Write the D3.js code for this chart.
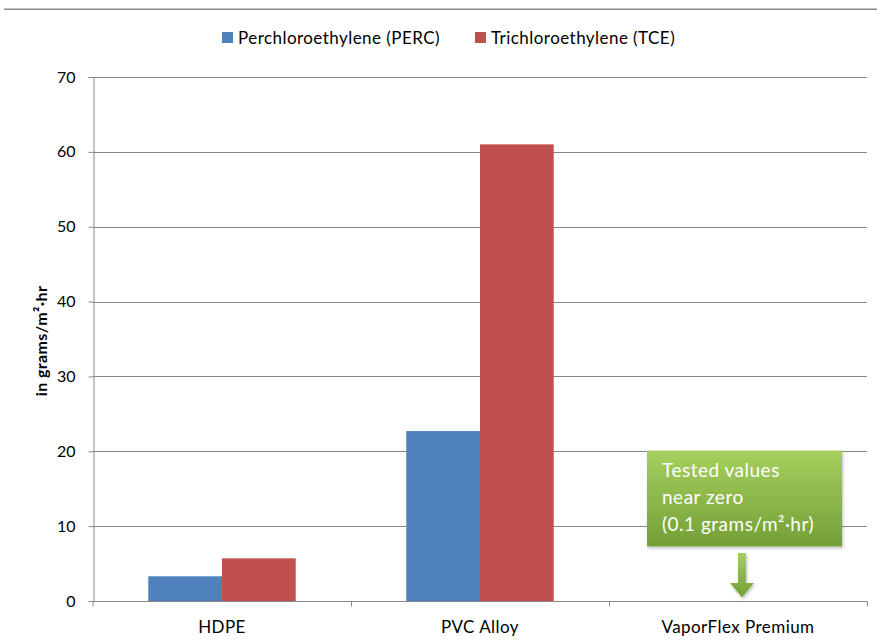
<!DOCTYPE html>
<html>
<head>
<meta charset="utf-8">
<script src="https://cdn.jsdelivr.net/npm/d3@7"></script>
<style>
  body { margin: 0; background: #fff; }
  text { font-family: Lato, "Open Sans", sans-serif; fill: #000; }
</style>
</head>
<body>
<div id="chart"></div>
<script>
"use strict";

var categories = ["HDPE", "PVC Alloy", "VaporFlex Premium"];
var seriesNames = ["Perchloroethylene (PERC)", "Trichloroethylene (TCE)"];
var perc = [3.3, 22.7, 0];
var tce = [5.7, 61, 0];
var yTicks = [0, 10, 20, 30, 40, 50, 60, 70];
var noteLines = ["Tested values", "near zero", "(0.1 grams/m²·hr)"];

var colors = ["#4F81BD", "#C0504D"];

var width = 877,
    height = 643;

var margin = {top: 77, right: 10, bottom: 42, left: 93};
var plotW = 867 - margin.left,
    plotH = 601 - margin.top;

var svg = d3.select("#chart")
            .append("svg")
            .attr("width", width)
            .attr("height", height);

var defs = svg.append("defs");
var grad = defs.append("linearGradient")
    .attr("id", "green")
    .attr("x1", 0).attr("y1", 0).attr("x2", 0).attr("y2", 1);
grad.append("stop").attr("offset", "0%").attr("stop-color", "#a6d05e");
grad.append("stop").attr("offset", "100%").attr("stop-color", "#739f36");

var shadow = defs.append("filter").attr("id", "shadow")
    .attr("x", "-10%").attr("y", "-10%").attr("width", "130%").attr("height", "130%");
shadow.append("feDropShadow")
    .attr("dx", 1).attr("dy", 2).attr("stdDeviation", 1.5)
    .attr("flood-color", "#000").attr("flood-opacity", 0.25);

// top rule across the page
svg.append("line")
    .attr("x1", 4).attr("x2", width).attr("y1", 9.5).attr("y2", 9.5)
    .attr("stroke", "#8a8a8a").attr("stroke-width", 1);
svg.append("line")
    .attr("x1", 4).attr("x2", width).attr("y1", 8.5).attr("y2", 8.5)
    .attr("stroke", "#c4c4c4").attr("stroke-width", 1);

var g = svg.append("g")
    .attr("transform", "translate(" + margin.left + "," + margin.top + ")");

var x0 = d3.scaleBand().domain(categories).range([0, plotW]);
var x1 = d3.scaleBand().domain(seriesNames)
    .range([0, x0.bandwidth()]).paddingOuter(0.75).paddingInner(0);
var y = d3.scaleLinear().domain([0, 70]).range([plotH, 0]);

// gridlines
g.selectAll(".grid")
    .data(yTicks.slice(1))
    .enter()
    .append("line")
    .attr("class", "grid")
    .attr("x1", 0).attr("x2", plotW)
    .attr("y1", function(d) { return Math.round(y(d)) + 0.5 })
    .attr("y2", function(d) { return Math.round(y(d)) + 0.5 })
    .attr("stroke", "#878787")
    .attr("stroke-width", 1);

// bars
var rows = categories.map(function(c, i) {
    return {cat: c, vals: [perc[i], tce[i]]};
});

var groups = g.selectAll(".cat")
    .data(rows)
    .enter()
    .append("g")
    .attr("class", "cat")
    .attr("transform", function(d) { return "translate(" + x0(d.cat) + ",0)" });

groups.selectAll("rect")
    .data(function(d) { return d.vals.map(function(v, j) { return {name: seriesNames[j], v: v, j: j} }) })
    .enter()
    .append("rect")
    .attr("x", function(d) { return x1(d.name) })
    .attr("width", x1.bandwidth())
    .attr("y", function(d) { return y(d.v) })
    .attr("height", function(d) { return plotH - y(d.v) })
    .attr("fill", function(d) { return colors[d.j] });

// y axis
var yAxis = g.append("g")
    .attr("transform", "translate(0.5,0)")
    .call(d3.axisLeft(y).tickValues(yTicks).tickSize(5).tickPadding(13));
yAxis.selectAll("path, line").attr("stroke", "#878787");
yAxis.selectAll("text")
    .style("font-family", "Lato, sans-serif")
    .style("font-size", "16px")
    .attr("fill", "#000");

// x axis
var xAxis = g.append("g")
    .attr("transform", "translate(0," + (plotH + 0.5) + ")");
xAxis.append("line")
    .attr("x1", 0).attr("x2", plotW)
    .attr("stroke", "#878787");
xAxis.selectAll(".tick")
    .data(categories)
    .enter()
    .append("line")
    .attr("x1", function(d) { return Math.round(x0(d) + x0.bandwidth()) + 0.5 })
    .attr("x2", function(d) { return Math.round(x0(d) + x0.bandwidth()) + 0.5 })
    .attr("y1", 0).attr("y2", 5)
    .attr("stroke", "#878787");
xAxis.append("line")
    .attr("x1", 0).attr("x2", 0).attr("y1", 0).attr("y2", 5)
    .attr("stroke", "#878787");
xAxis.selectAll(".lab")
    .data(categories)
    .enter()
    .append("text")
    .attr("x", function(d) { return x0(d) + x0.bandwidth() / 2 })
    .attr("y", 31)
    .attr("text-anchor", "middle")
    .style("font-size", "17px")
    .style("letter-spacing", "0.45px")
    .text(function(d) { return d });

// y title
svg.append("text")
    .attr("transform", "translate(47,341) rotate(-90)")
    .attr("text-anchor", "middle")
    .style("font-size", "16px")
    .style("letter-spacing", "0.4px")
    .style("font-weight", "bold")
    .text("in grams/m²·hr");

// legend
var legend = svg.append("g").attr("transform", "translate(222,32)");
var legX = [0, 253];
seriesNames.forEach(function(name, i) {
    var item = legend.append("g").attr("transform", "translate(" + legX[i] + ",0)");
    item.append("rect")
        .attr("width", 11).attr("height", 11)
        .attr("fill", colors[i]);
    item.append("text")
        .attr("x", 16).attr("y", 11.5)
        .style("font-size", "17px")
        .style("letter-spacing", "0.45px")
        .text(name);
});

// annotation over VaporFlex
var vx = x0("VaporFlex Premium"),
    vc = vx + x0.bandwidth() / 2;
var note = g.append("g");
note.append("rect")
    .attr("x", vx + 38)
    .attr("y", y(20.1))
    .attr("width", 195)
    .attr("height", y(7.3) - y(20.1))
    .attr("fill", "url(#green)")
    .attr("filter", "url(#shadow)");
note.selectAll("text")
    .data(noteLines)
    .enter()
    .append("text")
    .attr("x", vx + 53)
    .attr("y", function(d, i) { return y(20.1) + 26 + i * 27 })
    .style("font-size", "19px")
    .style("letter-spacing", "0.5px")
    .style("fill", "#fff")
    .text(function(d) { return d });

// down arrow
var ax = vc + 4,
    aTop = y(6.4), aNeck = y(2.4), aTip = y(0.5);
note.append("path")
    .attr("d", "M" + (ax - 4) + "," + aTop + "H" + (ax + 4) + "V" + aNeck +
               "H" + (ax + 12) + "L" + ax + "," + aTip + "L" + (ax - 12) + "," + aNeck +
               "H" + (ax - 4) + "Z")
    .attr("fill", "url(#green)")
    .attr("filter", "url(#shadow)");
</script>
</body>
</html>
